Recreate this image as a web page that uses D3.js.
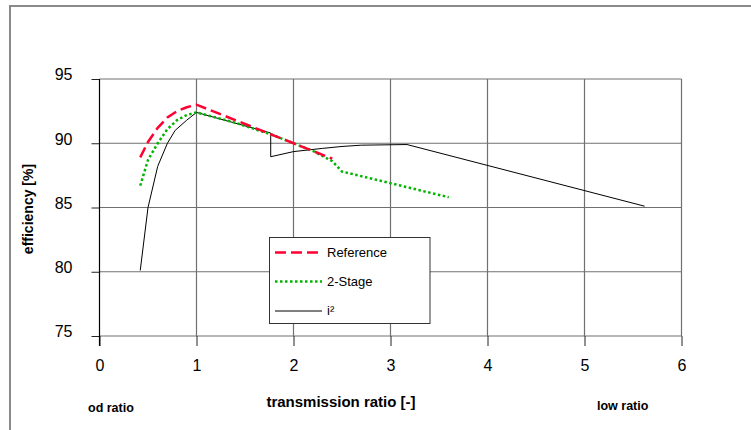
<!DOCTYPE html>
<html>
<head>
<meta charset="utf-8">
<script src="https://cdn.jsdelivr.net/npm/d3@7"></script>
<style>
  body { margin: 0; background: #fff; }
  svg { display: block; font-family: Arial, "Liberation Sans", sans-serif; }
</style>
</head>
<body>
<svg id="chart" width="751" height="430"></svg>
<script>

let xTicks = [0, 1, 2, 3, 4, 5, 6];
let yTicks = [75, 80, 85, 90, 95];

let refRatio = [0.42, 0.5, 0.6, 0.7, 0.8, 0.9, 1.0, 1.2, 1.4, 1.6, 1.8, 2.0, 2.2, 2.4];
let refEff   = [88.9, 90.1, 91.2, 92.0, 92.5, 92.8, 93.0, 92.4, 91.8, 91.2, 90.6, 90.0, 89.4, 88.8];

let stageRatio = [0.42, 0.5, 0.6, 0.7, 0.8, 0.9, 1.0, 1.2, 1.4, 1.6, 1.8, 2.0, 2.2, 2.4, 2.5, 3.6];
let stageEff   = [86.7, 88.7, 90.0, 91.1, 91.8, 92.2, 92.4, 92.0, 91.6, 91.1, 90.6, 90.0, 89.4, 88.6, 87.8, 85.8];

let i2Ratio = [0.42, 0.5, 0.6, 0.7, 0.78, 0.9, 1.0, 1.765, 1.765, 2.0, 2.3, 2.5, 2.7, 3.17, 5.62];
let i2Eff   = [80.1, 85.0, 88.2, 90.0, 91.0, 91.8, 92.4, 90.8, 88.95, 89.35, 89.6, 89.75, 89.85, 89.9, 85.1];

let seriesNames = ['Reference', '2-Stage', 'i²'];

let svg = d3.select('#chart');

let x = d3.scaleLinear().domain([0, 6]).range([99.5, 681.5]);
let y = d3.scaleLinear().domain([75, 95]).range([336, 79]);

// outer frame
svg.append('rect')
  .attr('x', 10).attr('y', 6)
  .attr('width', 800).attr('height', 500)
  .attr('fill', 'none')
  .attr('stroke', '#8a8a8a')
  .attr('stroke-width', 2);

// grid
svg.append('g')
  .selectAll('line')
  .data(yTicks)
  .join('line')
  .attr('x1', x(0)).attr('x2', x(6))
  .attr('y1', d => y(d)).attr('y2', d => y(d))
  .attr('stroke', '#707070')
  .attr('stroke-width', 1.2);

svg.append('g')
  .selectAll('line')
  .data(xTicks.slice(1))
  .join('line')
  .attr('x1', d => x(d)).attr('x2', d => x(d))
  .attr('y1', y(95)).attr('y2', y(75))
  .attr('stroke', '#707070')
  .attr('stroke-width', 1.2);

// axes
let xAxis = d3.axisBottom(x)
  .tickValues(xTicks)
  .tickFormat(d3.format('d'))
  .tickSize(10)
  .tickPadding(14);
let gx = svg.append('g')
  .attr('transform', 'translate(0,' + y(75) + ')')
  .call(xAxis);
gx.select('.domain').remove();
gx.selectAll('.tick line').attr('stroke', '#222');
gx.selectAll('.tick text')
  .attr('font-size', 16)
  .attr('font-family', 'Arial, "Liberation Sans", sans-serif')
  .attr('fill', '#000');

let yAxis = d3.axisLeft(y).tickValues(yTicks).tickSize(8).tickPadding(19);
let gy = svg.append('g')
  .attr('transform', 'translate(' + x(0) + ',0)')
  .call(yAxis);
gy.select('.domain').remove();
gy.selectAll('.tick line').attr('stroke', '#222');
gy.selectAll('.tick text')
  .attr('font-size', 16)
  .attr('dy', '0.06em')
  .attr('font-family', 'Arial, "Liberation Sans", sans-serif')
  .attr('fill', '#000');

svg.append('line')
  .attr('x1', x(0)).attr('x2', x(0))
  .attr('y1', y(95)).attr('y2', y(75) + 10)
  .attr('stroke', '#000')
  .attr('stroke-width', 1.2);

// series
let line = d3.line()
  .x(d => x(d[0]))
  .y(d => y(d[1]));

let series = [
  { name: seriesNames[0], pts: d3.zip(refRatio, refEff), color: '#ff0033', width: 2.5, dash: '11,5' },
  { name: seriesNames[1], pts: d3.zip(stageRatio, stageEff), color: '#00b400', width: 2.5, dash: '2.5,2.5' },
  { name: seriesNames[2], pts: d3.zip(i2Ratio, i2Eff), color: '#000', width: 1, dash: null }
];

svg.append('g')
  .selectAll('path')
  .data(series.slice().reverse())
  .join('path')
  .attr('d', d => line(d.pts))
  .attr('fill', 'none')
  .attr('stroke', d => d.color)
  .attr('stroke-width', d => d.width)
  .attr('stroke-dasharray', d => d.dash);

// legend
let legend = svg.append('g');
legend.append('rect')
  .attr('x', 269.5).attr('y', 237.5)
  .attr('width', 160.5).attr('height', 86)
  .attr('fill', '#fff')
  .attr('stroke', '#333')
  .attr('stroke-width', 1);

let rowY = [252.5, 281.5, 311];
let items = legend.selectAll('g.item')
  .data(series)
  .join('g')
  .attr('class', 'item')
  .attr('transform', (d, i) => 'translate(0,' + rowY[i] + ')');

items.append('line')
  .attr('x1', 275).attr('x2', 322)
  .attr('stroke', d => d.color)
  .attr('stroke-width', d => d.width)
  .attr('stroke-dasharray', d => d.dash);

items.append('text')
  .attr('x', 327)
  .attr('y', 1)
  .attr('dominant-baseline', 'middle')
  .attr('font-size', 13)
  .text(d => d.name);

// titles
svg.append('text')
  .attr('transform', 'translate(33,209) rotate(-90)')
  .attr('text-anchor', 'middle')
  .attr('font-size', 14)
  .attr('font-weight', 'bold')
  .text('efficiency [%]');

svg.append('text')
  .attr('x', 341).attr('y', 407)
  .attr('text-anchor', 'middle')
  .attr('font-size', 15)
  .attr('font-weight', 'bold')
  .text('transmission ratio [-]');

svg.append('text')
  .attr('x', 88).attr('y', 412)
  .attr('font-size', 12.5)
  .attr('font-weight', 'bold')
  .text('od ratio');

svg.append('text')
  .attr('x', 597).attr('y', 410)
  .attr('font-size', 12.5)
  .attr('font-weight', 'bold')
  .text('low ratio');

</script>
</body>
</html>
